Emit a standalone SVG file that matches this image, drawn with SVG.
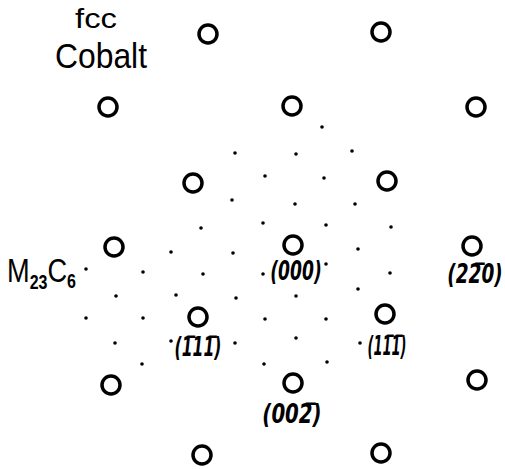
<svg xmlns="http://www.w3.org/2000/svg" width="505" height="469" viewBox="0 0 505 469">
<style>
.spot{fill:none;stroke:#000;stroke-width:3.5}
.dot{fill:#000}
.lbl{font-family:"Liberation Sans",Arial,sans-serif;fill:#000}
.idx{font-family:"DejaVu Sans",sans-serif;font-style:oblique;font-weight:bold;font-size:26px;fill:#000;text-anchor:middle}
</style>
<rect width="505" height="469" fill="#fff"/>
<g id="fcc-spots">
<circle class="spot" cx="208" cy="34" r="9"/>
<circle class="spot" cx="381" cy="32" r="9"/>
<circle class="spot" cx="108" cy="107" r="9"/>
<circle class="spot" cx="292" cy="106" r="9"/>
<circle class="spot" cx="476" cy="107" r="9"/>
<circle class="spot" cx="193" cy="183" r="9"/>
<circle class="spot" cx="387" cy="181" r="9"/>
<circle class="spot" cx="114" cy="247" r="9"/>
<circle class="spot" cx="293" cy="245" r="9"/>
<circle class="spot" cx="472" cy="246" r="9"/>
<circle class="spot" cx="198" cy="317" r="9"/>
<circle class="spot" cx="385" cy="314" r="9"/>
<circle class="spot" cx="111" cy="385" r="9"/>
<circle class="spot" cx="293" cy="383" r="9"/>
<circle class="spot" cx="477" cy="380" r="9"/>
<circle class="spot" cx="202" cy="455" r="9"/>
<circle class="spot" cx="381" cy="453" r="9"/>
</g>
<g id="carbide-spots" class="dot">
<circle cx="322" cy="127" r="1.8"/>
<circle cx="235" cy="153" r="1.8"/>
<circle cx="296" cy="154" r="1.8"/>
<circle cx="352" cy="151" r="1.8"/>
<circle cx="265" cy="176" r="1.8"/>
<circle cx="324" cy="178" r="1.8"/>
<circle cx="232" cy="200" r="1.8"/>
<circle cx="295" cy="204" r="1.8"/>
<circle cx="355" cy="204" r="1.8"/>
<circle cx="201" cy="228" r="1.8"/>
<circle cx="263" cy="223" r="1.8"/>
<circle cx="326" cy="225" r="1.8"/>
<circle cx="391" cy="227" r="1.8"/>
<circle cx="171" cy="252" r="1.8"/>
<circle cx="233" cy="253" r="1.8"/>
<circle cx="358" cy="249" r="1.8"/>
<circle cx="86" cy="269" r="1.8"/>
<circle cx="143" cy="272" r="1.8"/>
<circle cx="203" cy="274" r="1.8"/>
<circle cx="263" cy="274" r="1.8"/>
<circle cx="326" cy="264" r="1.8"/>
<circle cx="390" cy="273" r="1.8"/>
<circle cx="116" cy="296" r="1.8"/>
<circle cx="176" cy="295" r="1.8"/>
<circle cx="236" cy="298" r="1.8"/>
<circle cx="296" cy="296" r="1.8"/>
<circle cx="358" cy="289" r="1.8"/>
<circle cx="86" cy="318" r="1.8"/>
<circle cx="143" cy="318" r="1.8"/>
<circle cx="265" cy="319" r="1.8"/>
<circle cx="326" cy="319" r="1.8"/>
<circle cx="115" cy="343" r="1.8"/>
<circle cx="171" cy="341" r="1.8"/>
<circle cx="235" cy="343" r="1.8"/>
<circle cx="296" cy="338" r="1.8"/>
<circle cx="360" cy="343" r="1.8"/>
<circle cx="142" cy="364" r="1.8"/>
<circle cx="264" cy="364" r="1.8"/>
<circle cx="327" cy="362" r="1.8"/>
</g>
<g id="title">
<text class="lbl" x="75" y="28" font-size="27" textLength="42" lengthAdjust="spacingAndGlyphs">fcc</text>
<text class="lbl" x="55" y="68" font-size="35" textLength="92" lengthAdjust="spacingAndGlyphs">Cobalt</text>
</g>
<g id="m23c6" transform="translate(7 282) scale(0.8 1)">
<text class="lbl" x="0" y="0" font-size="34">M<tspan font-size="20" font-weight="bold" dy="7">23</tspan><tspan dy="-7">C</tspan><tspan font-size="20" font-weight="bold" dy="6">6</tspan></text>
</g>
<g id="indices">
<text class="idx" transform="translate(296 280) scale(0.66 1)">(000)</text>
<text class="idx" transform="translate(475 283) scale(0.71 1)">(2&#x0032;&#x0305;0)</text>
<text class="idx" transform="translate(198 356) scale(0.6 1)">(1&#x0305;11&#x0305;)</text>
<text class="idx" transform="translate(387 355) scale(0.5 1)">(11&#x0305;1&#x0305;)</text>
<text class="idx" transform="translate(292 423) scale(0.76 1)">(002&#x0305;)</text>
</g>
</svg>
